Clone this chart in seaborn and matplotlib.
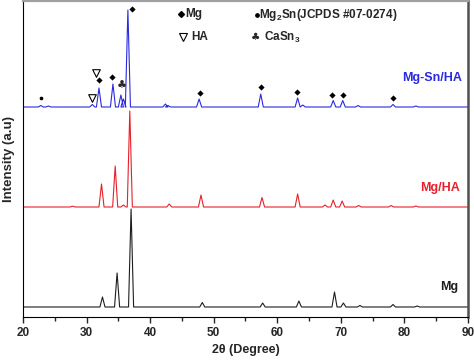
import numpy as np
import matplotlib
matplotlib.use("Agg")
import matplotlib.pyplot as plt
import seaborn as sns

# ----------------------------------------
# Picos (posición 2θ, altura relativa a la línea base)
mg_pos = [32.5, 34.8, 37.0, 48.2, 57.7, 63.4, 69.0, 70.4, 73.0, 78.2, 82.0]
mg_h = [10, 34, 98, 4.5, 4, 6, 15, 4, 1.5, 2.5, 1]

mgha_pos = [27.8, 32.35, 34.5, 35.8, 36.8, 43.0, 48.0, 57.6, 63.2, 67.5, 68.8, 70.2, 72.8, 77.9, 81.8]
mgha_h = [0.8, 23, 41, 2, 96, 3, 12, 9.5, 13, 2, 7, 6, 1.5, 1.5, 1]

mgsnha_pos = [22.8, 24.0, 30.9, 31.95, 34.15, 35.4, 35.8, 36.5, 42.4, 42.8, 47.7,
              57.4, 63.2, 64.0, 68.8, 70.3, 72.7, 78.2, 81.8]
mgsnha_h = [1.5, 1, 2.5, 19, 23, 12, 8, 97, 3, 1.5, 8,
            13, 9, 2, 6.5, 6.5, 1.5, 2.5, 1]

# Marcadores de fases sobre el patrón Mg-Sn/HA
mg_mark_x = [31.9, 34.05, 37.15, 47.8, 57.4, 63.05, 68.65, 70.4, 78.2]
mg_mark_y = [227, 230, 298, 214, 220, 215, 212, 212, 209]
ha_mark_x = [30.9, 31.55]
ha_mark_y = [209, 234]
mg2sn_mark_x = [22.8]
mg2sn_mark_y = [209]
casn_mark_x = [35.55]
casn_mark_y = [221]

series_names = ["Mg", "Mg/HA", "Mg-Sn/HA"]
offsets = [0, 100, 200]
colors = ["#1e1e1e", "#e8202a", "#2a2ae0"]


def stick_profile(pos, h, base=0.0, half=0.4):
    # Perfil simple: cada pico como triángulo angosto sobre la línea base
    x = [20.0]
    y = [base]
    for p, v in zip(pos, h):
        x += [p - half, p, p + half]
        y += [base, base + v, base]
    x.append(90.0)
    y.append(base)
    return np.array(x), np.array(y)


# ----------------------------------------
sns.set_style("ticks")
plt.rcParams["font.family"] = ["Liberation Sans", "DejaVu Sans"]
plt.rcParams["font.weight"] = "bold"
plt.rcParams["mathtext.fontset"] = "custom"
plt.rcParams["mathtext.bf"] = "Liberation Sans:bold"
plt.rcParams["mathtext.rm"] = "Liberation Sans:bold"
plt.rcParams["mathtext.default"] = "bf"

fig = plt.figure(figsize=(4.74, 3.6), dpi=100)
ax = fig.add_axes([23 / 474, 43 / 360, 445 / 474, 316 / 360])

all_data = [(mg_pos, mg_h), (mgha_pos, mgha_h), (mgsnha_pos, mgsnha_h)]
for (pos, h), off, col in zip(all_data, offsets, colors):
    x, y = stick_profile(pos, h, base=off)
    sns.lineplot(x=x, y=y, ax=ax, color=col, lw=0.8, estimator=None, sort=False)

sns.scatterplot(x=mg_mark_x, y=mg_mark_y, ax=ax, marker="D", s=10, color="black",
                edgecolor="black", linewidth=0)
sns.scatterplot(x=ha_mark_x, y=ha_mark_y, ax=ax, marker="v", s=30, facecolor="white",
                edgecolor="black", linewidth=0.8)
sns.scatterplot(x=mg2sn_mark_x, y=mg2sn_mark_y, ax=ax, marker="o", s=7, color="black",
                linewidth=0)
for cx, cy in zip(casn_mark_x, casn_mark_y):
    ax.text(cx, cy, "\u2663", ha="center", va="center", fontsize=8,
            family=["DejaVu Sans"])

# Leyenda manual (texto y símbolos)
ax.plot([44.85], [293], marker="D", ms=3.0, color="black", ls="none")
ax.text(45.6, 293, "Mg", fontsize=8.5, fontweight="bold", va="center", ha="left")
ax.plot([45.2], [270], marker="v", ms=5.5, mfc="white", mec="black", mew=0.8, ls="none")
ax.text(46.5, 270, "HA", fontsize=8.5, fontweight="bold", va="center", ha="left")
ax.plot([56.75], [292], marker="o", ms=2.4, color="black", ls="none")
ax.text(57.15, 292, "Mg$_2$Sn(JCPDS #07-0274)", fontsize=8.5, fontweight="bold",
        va="center", ha="left")
ax.text(56.6, 270, "\u2663", fontsize=7.5, va="center", ha="center", family=["DejaVu Sans"])
ax.text(57.9, 270, "CaSn$_3$", fontsize=8.5, fontweight="bold", va="center", ha="left")

# Etiquetas de cada patrón
label_pos = [(88.4, 20), (88.75, 119), (89.0, 229)]
for name, (lx, ly), col in zip(series_names, label_pos, colors):
    ax.text(lx, ly, name, color=col, fontsize=9, fontweight="bold", ha="right", va="center")

ax.set_xlim(20, 90)
ax.set_ylim(-10, 306)
ax.set_xticks(range(20, 91, 10))
ax.set_xticks(range(25, 90, 10), minor=True)
ax.set_yticks([])
ax.tick_params(axis="x", which="major", direction="out", length=4, width=1, labelsize=8.5, pad=3.5)
ax.tick_params(axis="x", which="minor", direction="out", length=3, width=1)
for lab in ax.get_xticklabels():
    lab.set_fontweight("bold")

ax.set_xlabel("2\u03b8 (Degree)", fontsize=9, fontweight="bold", labelpad=3)
ax.set_ylabel("Intensity (a.u)", fontsize=9.5, fontweight="bold", labelpad=6)

ax.spines["left"].set_color("black")
ax.spines["bottom"].set_color("black")
ax.spines["top"].set_color("#a0a0a0")
ax.spines["top"].set_linewidth(1.6)
ax.spines["right"].set_color("#505050")
ax.spines["right"].set_linewidth(1.8)

fig.savefig("out.png", dpi=100)
